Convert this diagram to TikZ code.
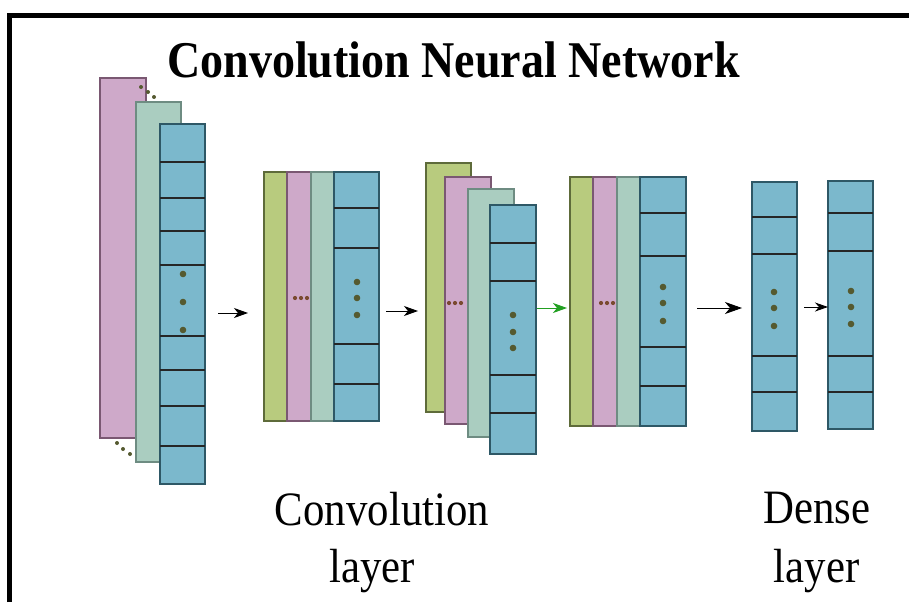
\documentclass[tikz,border=0pt]{standalone}
\usepackage{fontspec}
\setmainfont{Liberation Serif}
\usetikzlibrary{arrows.meta}
\definecolor{pinkF}{HTML}{CEA9C9}
\definecolor{pinkD}{HTML}{7A5872}
\definecolor{sageF}{HTML}{AACDC0}
\definecolor{sageD}{HTML}{6E8C82}
\definecolor{blueF}{HTML}{7BB8CC}
\definecolor{blueD}{HTML}{2E5866}
\definecolor{limeF}{HTML}{B8CB7E}
\definecolor{limeD}{HTML}{5E6B3A}
\definecolor{dotG}{HTML}{555A30}
\definecolor{dotP}{HTML}{7A4A30}
\definecolor{arrG}{HTML}{22A022}
\newcommand\myrows[2]{\foreach \yy in {#2}{\draw[rowline] (#1.west |- 0,\yy) -- (#1.east |- 0,\yy);}}
\newcommand\mydots[3]{\foreach \yy in {#3}{\fill[dotG] (#2,\yy) circle (3.3pt);}}
\begin{document}
\begin{tikzpicture}[x=1pt,y=-1pt,
  box/.style={draw, line width=1.2pt, inner sep=0pt, outer sep=0pt, anchor=north west},
  pinkbox/.style={box, fill=pinkF, draw=pinkD},
  sagebox/.style={box, fill=sageF, draw=sageD},
  bluebox/.style={box, fill=blueF, draw=blueD},
  limebox/.style={box, fill=limeF, draw=limeD},
  rowline/.style={draw=black!85, line width=1.1pt},
  arr/.style={line width=0.9pt, -{Stealth[length=14pt,width=10pt,inset=4pt]}},
  lbl/.style={anchor=base, inner sep=0pt, font=\fontsize{42.8}{48}\selectfont},
  ttl/.style={anchor=base, inner sep=0pt, font=\bfseries\fontsize{46}{50}\selectfont}]
\useasboundingbox (0,0) rectangle (909,602);
\fill[white] (0,0) rectangle (909,602);
% frame
\draw[line width=5.5pt] (9.5,602) -- (9.5,15.5) -- (909,15.5);
% title
\node[ttl] (title) at (453.5,77) {\scalebox{1}[1.12]{Convolution Neural Network}};
% ---- stack 1 (input)
\node[pinkbox, minimum width=46pt, minimum height=360pt] (p1) at (100,78) {};
\node[sagebox, minimum width=45pt, minimum height=360pt] (g1) at (136,102) {};
\node[bluebox, minimum width=45pt, minimum height=360pt] (b1) at (160,124) {};
\myrows{b1}{162,198,231,265,336,370,406,446}
\mydots{b1}{183}{274,302,330}
\foreach \p in {(141,87),(148,92),(154,97),(117,443),(123,449),(130,454)} \fill[dotG] \p circle (2pt);
% ---- stack 2
\node[limebox, minimum width=23pt, minimum height=249pt] (l2) at (264,172) {};
\node[pinkbox, minimum width=24pt, minimum height=249pt] (p2) at (287,172) {};
\node[sagebox, minimum width=23pt, minimum height=249pt] (g2) at (311,172) {};
\node[bluebox, minimum width=45pt, minimum height=249pt] (b2) at (334,172) {};
\myrows{b2}{208,248,344,384}
\mydots{b2}{357}{282,298,315}
\foreach \xx in {295,301,307} \fill[dotP] (\xx,298) circle (2.1pt);
% ---- stack 3
\node[limebox, minimum width=45pt, minimum height=249pt] (l3) at (426,163) {};
\node[pinkbox, minimum width=46pt, minimum height=247pt] (p3) at (445,177) {};
\node[sagebox, minimum width=46pt, minimum height=248pt] (g3) at (468,189) {};
\node[bluebox, minimum width=46pt, minimum height=249pt] (b3) at (490,205) {};
\myrows{b3}{243,281,375,413}
\mydots{b3}{513}{315,332,348}
\foreach \xx in {449,455,461} \fill[dotP] (\xx,303) circle (2.1pt);
% ---- stack 4
\node[limebox, minimum width=23pt, minimum height=249pt] (l4) at (570,177) {};
\node[pinkbox, minimum width=24pt, minimum height=249pt] (p4) at (593,177) {};
\node[sagebox, minimum width=23pt, minimum height=249pt] (g4) at (617,177) {};
\node[bluebox, minimum width=46pt, minimum height=249pt] (b4) at (640,177) {};
\myrows{b4}{213,256,347,386}
\mydots{b4}{663}{287,303,321}
\foreach \xx in {601,607,613} \fill[dotP] (\xx,303) circle (2.1pt);
% ---- dense layers
\node[bluebox, minimum width=45pt, minimum height=249pt] (d1) at (752,182) {};
\myrows{d1}{217,254,356,392}
\mydots{d1}{774}{292,308,326}
\node[bluebox, minimum width=45pt, minimum height=248pt] (d2) at (828,181) {};
\myrows{d2}{213,251,356,392}
\mydots{d2}{851}{291,307,324}
% ---- arrows
\coordinate (a1s) at (218,313); \coordinate (a1e) at (248,313);
\coordinate (a2s) at (386,311); \coordinate (a2e) at (418,311);
\coordinate (a3s) at (537,308); \coordinate (a3e) at (567,308);
\coordinate (a4s) at (697,308); \coordinate (a4e) at (742,308);
\coordinate (a5s) at (804,307);
\draw[arr] (a1s) -- (a1e);
\draw[arr] (a2s) -- (a2e);
\draw[arr, draw=arrG, fill=arrG] (a3s) -- (a3e);
\draw[arr, -{Stealth[length=17pt,width=12pt,inset=5pt]}] (a4s) -- (a4e);
\draw[arr, -{Stealth[length=13pt,width=9pt,inset=4pt]}] (a5s) -- (a5s -| d2.west);
% ---- labels
\node[lbl] (conv) at (382,525) {\scalebox{1}[1.12]{Convolution}};
\node[lbl] (convl) at (372,582) {\scalebox{1}[1.12]{layer}};
\node[lbl] (dense) at (817,523) {\scalebox{1}[1.12]{Dense}};
\node[lbl] (densel) at (816.5,582) {\scalebox{1}[1.12]{layer}};
\end{tikzpicture}
\end{document}
